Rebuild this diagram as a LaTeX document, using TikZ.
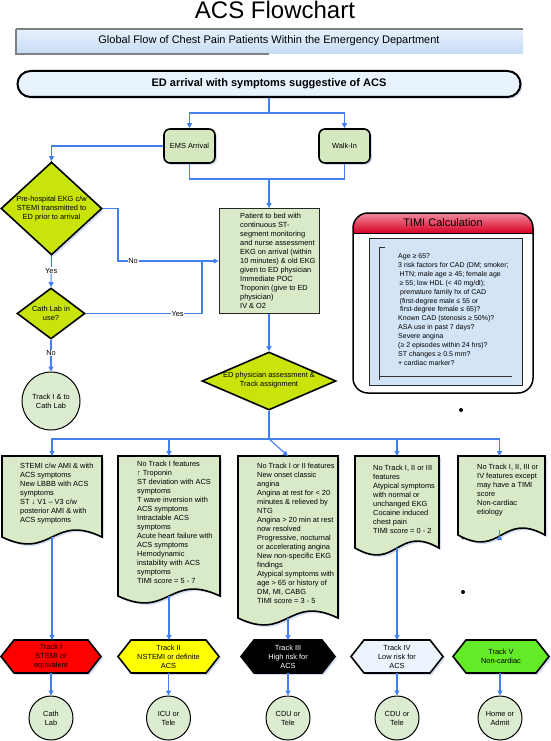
\documentclass[tikz,border=0pt]{standalone}
\usepackage{fontspec}
\setmainfont{Liberation Sans}
\usetikzlibrary{arrows.meta,shapes.geometric,calc,shadows}
\definecolor{connblue}{RGB}{66,128,238}
\definecolor{boxfill}{RGB}{216,234,200}
\definecolor{emsfill}{RGB}{214,232,192}
\definecolor{diafill}{RGB}{200,228,10}
\definecolor{circfill}{RGB}{220,236,208}
\definecolor{edfill}{RGB}{232,243,253}
\definecolor{bantop}{RGB}{232,241,252}
\definecolor{banbot}{RGB}{198,220,245}
\definecolor{timitop}{RGB}{240,140,160}
\definecolor{timibot}{RGB}{215,0,35}
\definecolor{timiinner}{RGB}{212,228,247}
\definecolor{hexred}{RGB}{255,0,0}
\definecolor{hexyellow}{RGB}{255,255,0}
\definecolor{hexblue}{RGB}{236,245,253}
\definecolor{hexgreen}{RGB}{100,235,40}
\definecolor{shadowblue}{RGB}{200,214,240}
\newcommand\smtxt{\fontsize{7.4}{9}\selectfont}
\newcommand\timitxt{\fontsize{7}{8.9}\selectfont}
\newcommand\docpath[1]{%
  \draw[docline] (#1.north west) -- (#1.north east) -- (#1.south east)
    .. controls ($(#1.south)+(0,-24)$) and ($(#1.south)+(0,24)$) .. (#1.south west) -- cycle;}
\newcommand\hexpath[2]{%
  \path[#2] (#1.west) -- ($(#1.north west)+(13,0)$) -- ($(#1.north east)+(-13,0)$) -- (#1.east)
    -- ($(#1.south east)+(-13,0)$) -- ($(#1.south west)+(13,0)$) -- cycle;}
\begin{document}
\begin{tikzpicture}[x=1pt,y=-1pt,
  myshadow/.style={drop shadow={shadow xshift=2pt, shadow yshift=-2pt, fill=shadowblue, opacity=0.8}},
  conn/.style={draw=connblue, line width=1.1pt, -{Triangle[length=5pt,width=5pt]}},
  plain/.style={draw=connblue, line width=1.1pt},
  lbl/.style={fill=white, inner sep=0.8pt, font=\smtxt},
  txt/.style={font=\smtxt, align=center, inner sep=0pt},
  ltxt/.style={font=\smtxt, align=left, inner sep=0pt, anchor=west},
  boxn/.style={inner sep=0pt, outer sep=0pt, draw=none},
  docline/.style={draw=black, line width=1.6pt, fill=boxfill, myshadow},
  rbox/.style={draw=black, line width=1.6pt, rounded corners=6pt, fill=emsfill,
    minimum width=51pt, minimum height=34pt, font=\smtxt, inner sep=0pt, myshadow},
  dia/.style={diamond, draw=black, line width=1.6pt, fill=diafill, inner sep=0pt},
  circ/.style={circle, draw=black, line width=1pt, fill=circfill, minimum size=44pt,
    inner sep=0pt, font=\smtxt, align=center},
  hexline/.style={draw=black, line width=1.6pt, myshadow}
]
\useasboundingbox (0,0) rectangle (550,741);

% title and banner
\node[font=\fontsize{24}{24}\selectfont, inner sep=0pt] (title) at (275,10) {ACS Flowchart};
\shade[top color=bantop, bottom color=banbot] (16,29) rectangle (523,54);
\draw[gray, line width=1.6pt] (16,29) -- (523,29);
\draw[gray, line width=1.2pt] (16,29) -- (16,54) -- (269,54);
\node[font=\fontsize{11}{11}\selectfont, inner sep=0pt] (banner) at (269,41) {Global Flow of Chest Pain Patients Within the Emergency Department};

% ED arrival
\node[draw=black, line width=2pt, rounded corners=13pt, fill=edfill, minimum width=503pt,
  minimum height=26pt, inner sep=0pt, font=\fontsize{11}{11}\selectfont\bfseries, myshadow] (ed) at (269,84)
  {ED arrival with symptoms suggestive of ACS};

\node[rbox] (ems) at (189.5,146) {EMS Arrival};
\node[rbox] (walk) at (344.5,146) {Walk-In};

% left decision column
\node[dia, minimum width=101pt, minimum height=93pt, myshadow] (pre) at (51.5,208.5) {};
\node[txt] (pretext) at (pre) {Pre-hospital EKG c/w\\STEMI transmitted to\\ED prior to arrival};
\node[dia, minimum width=68pt, minimum height=51pt] (cath) at (51,313.5) {};
\node[txt] (cathtext) at (cath) {Cath Lab in\\use?};
\node[circ, minimum size=58pt] (t1cath) at (51,401) {Track I \& to\\Cath Lab};

% patient box
\node[draw=black!85, line width=0.8pt, fill=boxfill, minimum width=100pt, minimum height=105pt,
  inner sep=0pt] (pat) at (269,261) {};
\node[ltxt] (pattext) at (240,261) {Patient to bed with\\continuous ST-\\segment monitoring\\and nurse assessment\\EKG on arrival (within\\10 minutes) \& old EKG\\given to ED physician\\Immediate POC\\Troponin (give to ED\\physician)\\IV \& O2};

% ED physician diamond
\node[dia, minimum width=134pt, minimum height=58pt] (edd) at (269,381) {};
\node[txt] (eddtext) at (269,380.5) {ED physician assessment \&\\Track assignment};

% TIMI box
\fill[white, rounded corners=15pt] (353,213) rectangle (533,393);
\begin{scope}
  \clip[rounded corners=15pt] (353,213) rectangle (533,393);
  \shade[top color=timitop, bottom color=timibot] (353,213) rectangle (533,233);
\end{scope}
\draw[black, line width=0.8pt] (353,233) -- (533,233);
\draw[black, line width=1.5pt, rounded corners=15pt] (353,213) rectangle (533,393);
\node[font=\fontsize{11}{11}\selectfont, inner sep=0pt] (timititle) at (443,223) {TIMI Calculation};
\draw[fill=timiinner, draw=black!85, line width=0.7pt] (369,238) rectangle (522,385);
\draw[black!80, line width=0.7pt] (385,247) -- (379,247) -- (379,380);
\draw[black!80, line width=0.7pt] (379,376) -- (512,376);
\node[anchor=west, align=left, inner sep=0pt, font=\timitxt] (timitext) at (398,309.5)
 {Age ≥ 65?\\3 risk factors for CAD (DM; smoker;\\\hspace*{1.5pt}HTN; male age ≥ 45; female age\\\hspace*{1.5pt}≥ 55; low HDL (< 40 mg/dl);\\\hspace*{2pt}premature family hx of CAD\\\hspace*{1.5pt}(first-degree male ≤ 55 or\\\hspace*{2pt}first-degree female ≤ 65)?\\Known CAD (stenosis ≥ 50\%)?\\ASA use in past 7 days?\\Severe angina\\(≥ 2 episodes within 24 hrs)?\\ST changes ≥ 0.5 mm?\\+ cardiac marker?};

% stray dots
\fill (461,410) circle (2);
\fill (463,538) circle (1.6);
\fill (463,592) circle (2);

% column boxes
\node[boxn, minimum width=100pt, minimum height=81pt] (c1) at (52,496.5) {};
\node[boxn, minimum width=102pt, minimum height=140pt] (c2) at (169,526) {};
\node[boxn, minimum width=100pt, minimum height=162pt] (c3) at (288,537) {};
\node[boxn, minimum width=84pt, minimum height=92pt] (c4) at (397,502) {};
\node[boxn, minimum width=87pt, minimum height=79pt] (c5) at (501.5,495.5) {};
\docpath{c1}\docpath{c2}\docpath{c3}\docpath{c4}\docpath{c5}
\node[ltxt] (c1text) at (20,494) {STEMI c/w AMI \& with\\ACS symptoms\\New LBBB with ACS\\symptoms\\ST ↓ V1 – V3 c/w\\posterior AMI \& with\\ACS symptoms};
\node[ltxt] (c2text) at (137,522.5) {No Track I features\\↑ Troponin\\ST deviation with ACS\\symptoms\\T wave inversion with\\ACS symptoms\\Intractable ACS\\symptoms\\Acute heart failure with\\ACS symptoms\\Hemodynamic\\instability with ACS\\symptoms\\TIMI score = 5 - 7};
\node[ltxt] (c3text) at (257,533.5) {No Track I or II features\\New onset classic\\angina\\Angina at rest for < 20\\minutes \& relieved by\\NTG\\Angina > 20 min at rest\\now resolved\\Progressive, nocturnal\\or accelerating angina\\New non-specific EKG\\findings\\Atypical symptoms with\\age > 65 or history of\\DM, MI, CABG\\TIMI score = 3 - 5};
\node[ltxt] (c4text) at (373,499.5) {No Track I, II or III\\features\\Atypical symptoms\\with normal or\\unchanged EKG\\Cocaine induced\\chest pain\\TIMI score = 0 - 2};
\node[ltxt] (c5text) at (477,490.5) {No Track I, II, III or\\IV features except\\may have a TIMI\\score\\Non-cardiac\\etiology};

% hexagons
\node[boxn, minimum width=100pt, minimum height=33pt] (h1) at (51,656.5) {};
\node[boxn, minimum width=101pt, minimum height=33pt] (h2) at (168.5,656.5) {};
\node[boxn, minimum width=94pt, minimum height=33pt] (h3) at (288,656.5) {};
\node[boxn, minimum width=92pt, minimum height=33pt] (h4) at (397,656.5) {};
\node[boxn, minimum width=96pt, minimum height=33pt] (h5) at (501,656.5) {};
\hexpath{h1}{hexline, fill=hexred}
\hexpath{h2}{hexline, fill=hexyellow}
\hexpath{h3}{hexline, fill=black}
\hexpath{h4}{hexline, fill=hexblue}
\hexpath{h5}{hexline, fill=hexgreen}
\node[txt] (h1text) at (h1) {Track I\\STEMI or\\equivalent};
\node[txt] (h2text) at (h2) {Track II\\NSTEMI or definite\\ACS};
\node[txt, text=white] (h3text) at (h3) {Track III\\High risk for\\ACS};
\node[txt] (h4text) at (h4) {Track IV\\Low risk for\\ACS};
\node[txt] (h5text) at (h5) {Track V\\Non-cardiac};

% destination circles
\node[circ] (o1) at (51,718) {Cath\\Lab};
\node[circ] (o2) at (168.5,718) {ICU or\\Tele};
\node[circ] (o3) at (288,718) {CDU or\\Tele};
\node[circ] (o4) at (397,718) {CDU or\\Tele};
\node[circ] (o5) at (500,718) {Home or\\Admit};

% connectors
\coordinate (s1) at (269,113);
\draw[plain] (ed.south) -- (s1);
\draw[conn] (s1) -| (ems.north);
\draw[conn] (s1) -| (walk.north);
\draw[conn] (ems.west) -| (pre.north);
\coordinate (m1) at (269,179);
\draw[plain] (ems.south) |- (m1);
\draw[plain] (walk.south) |- (m1);
\draw[conn] (m1) -- (pat.north);
\coordinate (n1) at (118,261);
\coordinate (j1) at (202,261);
\draw[conn] (pre.east) -| (n1) -- (pat.west) node[lbl, pos=0.15] {No};
\draw[plain] (cath.east) -- (cath.east -| j1) node[lbl, pos=0.79] {Yes} -- (j1);
\draw[conn] (pre.south) -- (cath.north) node[lbl, pos=0.48] {Yes};
\draw[conn] (cath.south) -- (t1cath.north) node[lbl, pos=0.42] {No};
\draw[conn] (pat.south) -- (edd.north);
\coordinate (d1) at (269,439);
\draw[plain] (edd.south) -- (d1);
\draw[conn] (d1) -| (c1.north);
\draw[conn] (d1) -| (c2.north);
\draw[conn] (d1) -- (c3.north);
\draw[conn] (d1) -| (c4.north);
\draw[conn] (d1) -| ($(c5.north)+(-2,0)$);
\draw[conn] (c1.south) -- (c1.south |- h1.north);
\draw[conn] (c2.south) -- (c2.south |- h2.north);
\draw[conn] (c3.south) -- (c3.south |- h3.north);
\draw[conn] (c4.south) -- (c4.south |- h4.north);
\draw[conn] ($(c5.south)+(-2,0)$) -- ($(c5.south)+(-2,0)$ |- h5.north);
\draw[conn] (h1.south) -- (o1.north);
\draw[conn] (h2.south) -- (o2.north);
\draw[conn] (h3.south) -- (o3.north);
\draw[conn] (h4.south) -- (o4.north);
\draw[conn] (h5.south -| o5.north) -- (o5.north);
\end{tikzpicture}
\end{document}
